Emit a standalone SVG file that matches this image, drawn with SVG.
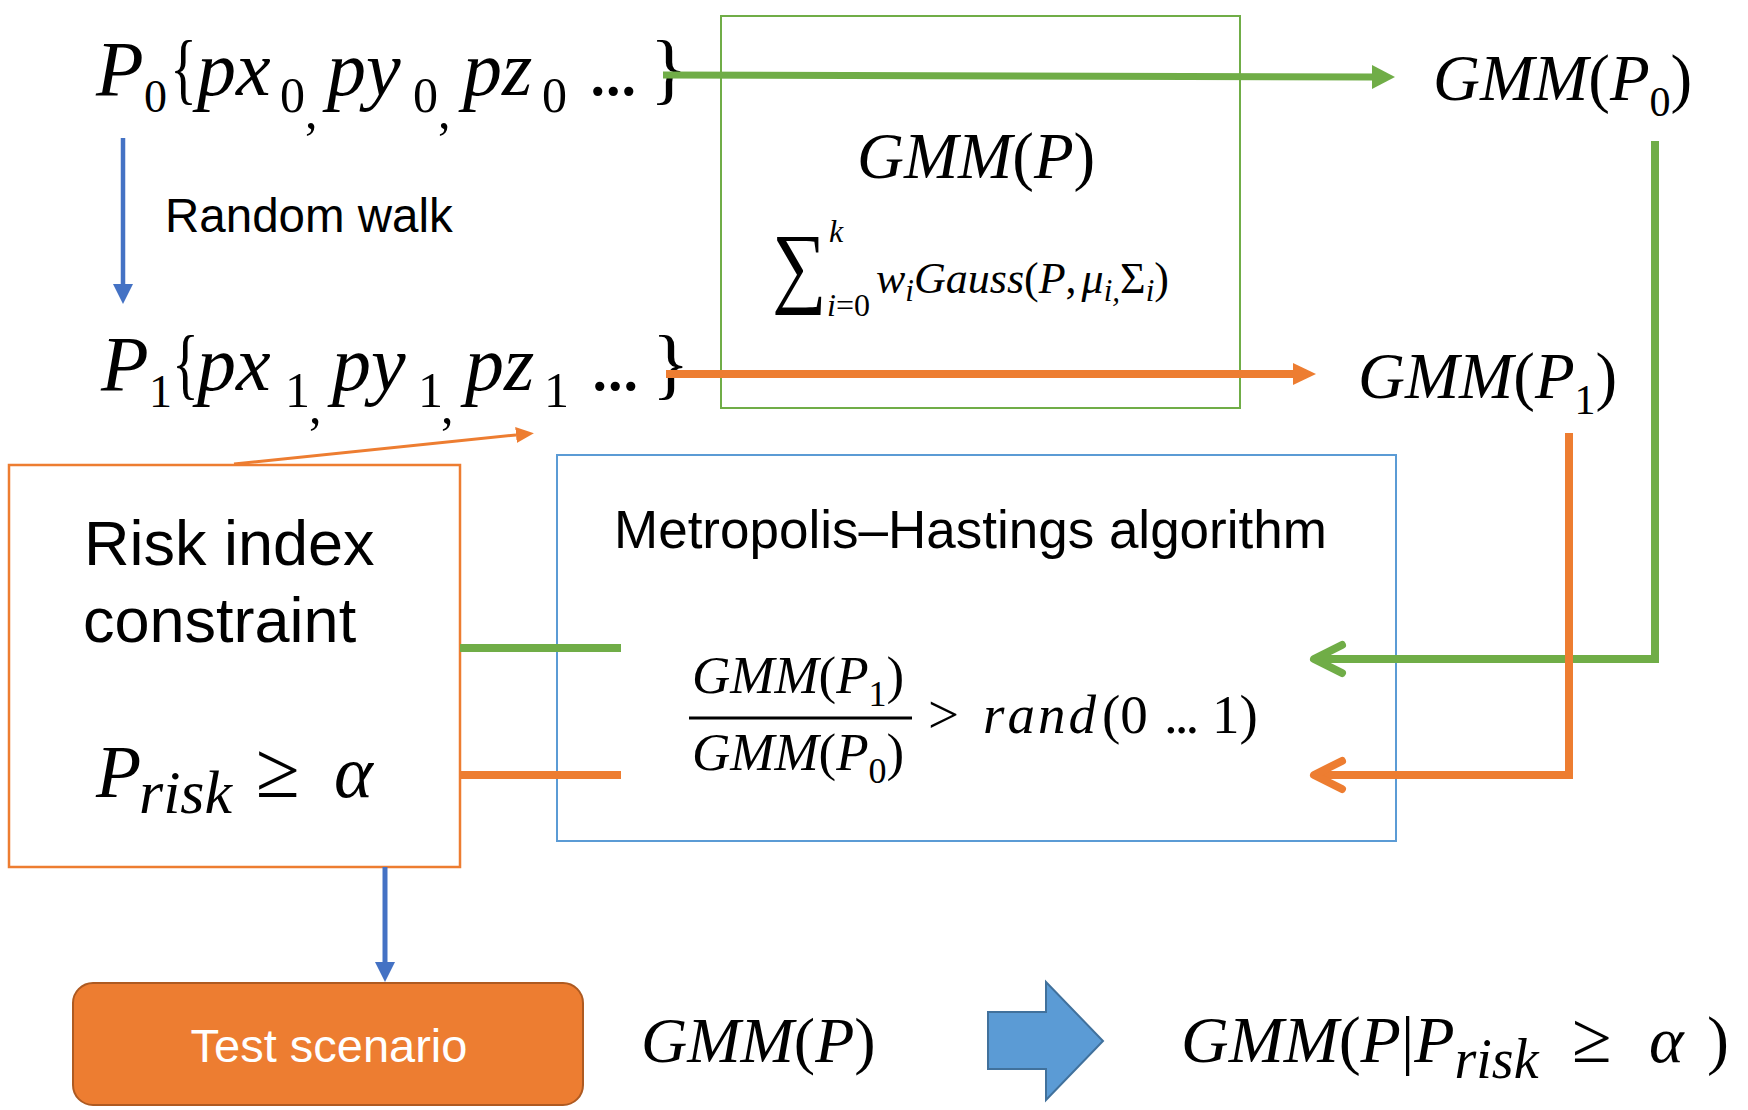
<svg xmlns="http://www.w3.org/2000/svg" width="1748" height="1110" viewBox="0 0 1748 1110">
  <style>
    .m { font-family: "Liberation Serif", "DejaVu Serif", serif; font-style: italic; fill: #000; }
    .u { font-style: normal; }
    .s { font-family: "Liberation Sans", Arial, sans-serif; fill: #000; }
    .box { fill: #fff; }
    .thick { fill: none; stroke-width: 8; }
  </style>
  <defs>
    <marker id="ah-green" markerUnits="userSpaceOnUse" viewBox="0 0 23 24" refX="0" refY="12" markerWidth="23" markerHeight="24" orient="auto">
      <path d="M0,0 L23,12 L0,24 z" fill="#70AD47"/>
    </marker>
    <marker id="ah-orange" markerUnits="userSpaceOnUse" viewBox="0 0 23 22" refX="0" refY="11" markerWidth="23" markerHeight="22" orient="auto">
      <path d="M0,0 L23,11 L0,22 z" fill="#ED7D31"/>
    </marker>
    <marker id="ah-orange-thin" markerUnits="userSpaceOnUse" viewBox="0 0 18 16" refX="0" refY="8" markerWidth="18" markerHeight="16" orient="auto">
      <path d="M0,0 L18,8 L0,16 z" fill="#ED7D31"/>
    </marker>
    <marker id="ah-blue" markerUnits="userSpaceOnUse" viewBox="0 0 20 20" refX="0" refY="10" markerWidth="20" markerHeight="20" orient="auto">
      <path d="M0,0 L20,10 L0,20 z" fill="#4472C4"/>
    </marker>
    <marker id="chev-green" markerUnits="userSpaceOnUse" viewBox="-40 -20 48 40" refX="0" refY="0" markerWidth="48" markerHeight="40" orient="auto" overflow="visible">
      <path d="M-28,-14 L0,0 L-28,14" fill="none" stroke="#70AD47" stroke-width="8" stroke-linecap="round" stroke-linejoin="round"/>
    </marker>
    <marker id="chev-orange" markerUnits="userSpaceOnUse" viewBox="-40 -20 48 40" refX="0" refY="0" markerWidth="48" markerHeight="40" orient="auto" overflow="visible">
      <path d="M-28,-14 L0,0 L-28,14" fill="none" stroke="#ED7D31" stroke-width="8" stroke-linecap="round" stroke-linejoin="round"/>
    </marker>
  </defs>

  <rect width="1748" height="1110" fill="#fff"/>

  <!-- GMM mixture definition -->
  <g id="gmm-box">
    <rect x="721" y="16" width="519" height="392" fill="none" stroke="#70AD47" stroke-width="2"/>
    <text class="m" font-size="65" x="857" y="178">GMM<tspan class="u">(</tspan>P<tspan class="u">)</tspan></text>
    <text class="m u" font-size="90" transform="translate(772,296) scale(0.85,1)">∑</text>
    <text class="m" font-size="32" x="829" y="242">k</text>
    <text class="m" font-size="32" y="316"><tspan x="827">i</tspan><tspan class="u">=0</tspan></text>
    <text class="m" font-size="44" x="876" y="293">w<tspan font-size="31" y="301">i</tspan><tspan y="293">Gauss</tspan><tspan class="u">(</tspan>P<tspan class="u">,</tspan><tspan dx="5">μ</tspan><tspan font-size="31" y="301">i,</tspan><tspan y="293" class="u">Σ</tspan><tspan font-size="31" y="301">i</tspan><tspan y="293" class="u">)</tspan></text>
  </g>

  <!-- current sample -->
  <g id="p0">
    <text class="m u" font-size="78" transform="translate(170,95) scale(0.72,1)">{</text>
    <text class="m" font-size="78" y="95">
      <tspan x="96">P</tspan><tspan x="144" y="112" class="u" font-size="46">0</tspan><tspan x="197" y="95">px</tspan><tspan x="280" y="112" class="u" font-size="50">0</tspan><tspan x="305" y="128" class="u" font-size="50">,</tspan><tspan x="327" y="95">py</tspan><tspan x="413" y="112" class="u" font-size="50">0</tspan><tspan x="438" y="128" class="u" font-size="50">,</tspan><tspan x="463" y="95">pz</tspan><tspan x="542" y="112" class="u" font-size="50">0</tspan><tspan x="588" y="95" class="u" letter-spacing="-4">...</tspan><tspan x="650" class="u">}</tspan>
    </text>
  </g>

  <!-- proposed sample -->
  <g id="p1">
    <text class="m u" font-size="78" transform="translate(172,390) scale(0.72,1)">{</text>
    <text class="m" font-size="78" y="390">
      <tspan x="101">P</tspan><tspan x="149" y="407" class="u" font-size="46">1</tspan><tspan x="197" y="390">px</tspan><tspan x="285" y="407" class="u" font-size="50">1</tspan><tspan x="309" y="423" class="u" font-size="50">,</tspan><tspan x="332" y="390">py</tspan><tspan x="418" y="407" class="u" font-size="50">1</tspan><tspan x="441" y="423" class="u" font-size="50">,</tspan><tspan x="465" y="390">pz</tspan><tspan x="544" y="407" class="u" font-size="50">1</tspan><tspan x="590" y="390" class="u" letter-spacing="-4">...</tspan><tspan x="652" class="u">}</tspan>
    </text>
  </g>

  <g id="random-walk-label">
    <text class="s" font-size="47.5" x="165" y="232">Random walk</text>
  </g>

  <g id="gmm-p0">
    <text class="m" font-size="65" x="1433" y="100">GMM<tspan class="u">(</tspan>P<tspan y="116" class="u" font-size="42">0</tspan><tspan y="100" class="u">)</tspan></text>
  </g>

  <g id="gmm-p1">
    <text class="m" font-size="65" x="1358" y="398">GMM<tspan class="u">(</tspan>P<tspan y="414" class="u" font-size="42">1</tspan><tspan y="398" class="u">)</tspan></text>
  </g>

  <!-- risk constraint -->
  <g id="risk-box">
    <rect x="9" y="465" width="451" height="402" class="box" stroke="#ED7D31" stroke-width="2.5"/>
    <text class="s" font-size="63" x="84" y="565">Risk index</text>
    <text class="s" font-size="63" x="83" y="642">constraint</text>
    <text class="m" font-size="74" y="797">
      <tspan x="96">P</tspan><tspan x="139" y="813" font-size="62">risk</tspan><tspan x="256" y="797" class="u" font-size="80">≥</tspan><tspan x="334">α</tspan>
    </text>
  </g>

  <!-- acceptance test -->
  <g id="mh-box">
    <rect x="557" y="455" width="839" height="386" fill="none" stroke="#5B9BD5" stroke-width="2"/>
    <text class="s" font-size="53" x="614" y="548">Metropolis–Hastings algorithm</text>
    <text class="m" font-size="53" x="692" y="693">GMM<tspan class="u">(</tspan>P<tspan y="706" class="u" font-size="36">1</tspan><tspan y="693" class="u">)</tspan></text>
    <line x1="689" y1="718" x2="912" y2="718" stroke="#000" stroke-width="3"/>
    <text class="m" font-size="53" x="692" y="770">GMM<tspan class="u">(</tspan>P<tspan y="783" class="u" font-size="36">0</tspan><tspan y="770" class="u">)</tspan></text>
    <text class="m" font-size="55" y="733">
      <tspan x="928" class="u">&gt;</tspan><tspan x="983" letter-spacing="3">rand</tspan><tspan x="1102" class="u">(0</tspan><tspan x="1164" class="u" letter-spacing="-3">...</tspan><tspan x="1212" class="u">1)</tspan>
    </text>
  </g>

  <!-- output -->
  <g id="test-scenario">
    <rect x="73" y="983" width="510" height="122" rx="20" fill="#ED7D31" stroke="#AE5A21" stroke-width="2"/>
    <text class="s" font-size="47" x="329" y="1062" text-anchor="middle" style="fill:#fff">Test scenario</text>
  </g>

  <g id="gmm-prior">
    <text class="m" font-size="64" x="641" y="1062">GMM<tspan class="u">(</tspan>P<tspan class="u">)</tspan></text>
  </g>

  <g id="transform-arrow">
    <polygon points="988,1012 1046,1012 1046,982 1103,1041 1046,1100 1046,1069 988,1069" fill="#5B9BD5" stroke="#41719C" stroke-width="2"/>
  </g>

  <g id="gmm-conditional">
    <text class="m" font-size="66" x="1181" y="1062">GMM<tspan class="u">(</tspan>P<tspan class="u">|</tspan>P<tspan y="1078" font-size="56">risk</tspan><tspan x="1572" y="1062" class="u" font-size="72">≥</tspan><tspan x="1649">α</tspan><tspan x="1707" class="u">)</tspan></text>
  </g>

  <!-- connectors -->
  <g id="connectors">
    <line x1="663" y1="75" x2="1372" y2="77" stroke="#70AD47" stroke-width="7" marker-end="url(#ah-green)"/>
    <line x1="666" y1="374" x2="1293" y2="374" stroke="#ED7D31" stroke-width="8" marker-end="url(#ah-orange)"/>
    <line x1="234" y1="464" x2="516" y2="435" stroke="#ED7D31" stroke-width="3" marker-end="url(#ah-orange-thin)"/>
    <line x1="123" y1="138" x2="123" y2="284" stroke="#4472C4" stroke-width="4.5" marker-end="url(#ah-blue)"/>
    <line x1="385" y1="867" x2="385" y2="962" stroke="#4472C4" stroke-width="5" marker-end="url(#ah-blue)"/>
    <path d="M1655,141 V659 H1314" class="thick" stroke="#70AD47" marker-end="url(#chev-green)"/>
    <path d="M1569,433 V775 H1314" class="thick" stroke="#ED7D31" marker-end="url(#chev-orange)"/>
    <line x1="460" y1="648" x2="621" y2="648" stroke="#70AD47" stroke-width="8"/>
    <line x1="460" y1="775" x2="621" y2="775" stroke="#ED7D31" stroke-width="8"/>
  </g>
</svg>
